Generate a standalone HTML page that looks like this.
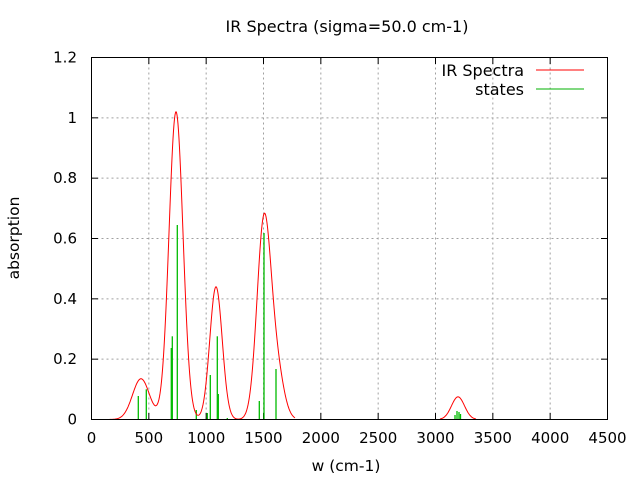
<!DOCTYPE html>
<html><head><meta charset="utf-8"><style>
html,body{margin:0;padding:0;background:#fff;}
svg{display:block;font-family:"DejaVu Sans","Liberation Sans",sans-serif;}
</style></head><body>
<svg id="s" width="640" height="480" viewBox="0 0 640 480" xmlns="http://www.w3.org/2000/svg">
<rect width="640" height="480" fill="#fff"/>
<g id="grid" stroke="#a0a0a0" stroke-dasharray="2,3" stroke-width="1"></g>
<g id="ticks" stroke="#000" stroke-width="1"></g>
<g id="labels" font-size="15" fill="#000"></g>
<text x="347" y="32" font-size="16" text-anchor="middle">IR Spectra (sigma=50.0 cm-1)</text>
<text x="346" y="471" font-size="15.5" text-anchor="middle">w (cm-1)</text>
<text transform="translate(19,238) rotate(-90)" font-size="15.5" text-anchor="middle">absorption</text>
<text x="524" y="76" font-size="16" text-anchor="end">IR Spectra</text>
<line x1="536" y1="70" x2="584" y2="70" stroke="#ff0000"/>
<text x="524" y="95" font-size="16" text-anchor="end">states</text>
<line x1="536" y1="89" x2="584" y2="89" stroke="#00b000"/>
<g id="sticks" stroke="#00bb00" stroke-width="1.3"></g>
<path id="curve" fill="none" stroke="#ff0000" stroke-width="1"/>
<rect x="91.5" y="57.5" width="516" height="362" fill="none" stroke="#000"/>
</svg>
<script>
var ns="http://www.w3.org/2000/svg";
function el(p,t,a,txt){var e=document.createElementNS(ns,t);for(var k in a)e.setAttribute(k,a[k]);if(txt!=null)e.textContent=txt;document.getElementById(p).appendChild(e);}
var X0=91.5,XS=516/4500,Y0=419.5,YS=362/1.2;
for(var i=0;i<=9;i++){var v=i*500,x=X0+v*XS;
 if(i>0&&i<9)el("grid","line",{x1:x,y1:57.5,x2:x,y2:419.5});
 el("ticks","line",{x1:x,y1:419.5,x2:x,y2:413});el("ticks","line",{x1:x,y1:57.5,x2:x,y2:64});
 el("labels","text",{x:x,y:443,"text-anchor":"middle"},String(v));}
var yl=["0","0.2","0.4","0.6","0.8","1","1.2"];
for(var i=0;i<=6;i++){var y=Y0-i*0.2*YS;
 if(i>0&&i<6)el("grid","line",{x1:91.5,y1:y,x2:607.5,y2:y});
 el("ticks","line",{x1:91.5,y1:y,x2:98,y2:y});el("ticks","line",{x1:607.5,y1:y,x2:601,y2:y});
 el("labels","text",{x:77,y:y+5,"text-anchor":"end"},yl[i]);}
var st=[[138.3,396],[146.3,389.3],[171.3,348],[172.3,336.3],[177.3,225],[196.3,410],[207.3,413],[210.3,375],[217.3,336.3],[218.3,394],[227.3,418],[259.3,401],[264,233],[276,369],[455,415],[457,411],[459,412],[460.5,414]];
st.forEach(function(s){el("sticks","line",{x1:s[0],y1:419.5,x2:s[0],y2:s[1]});});
var g=[[141,0.135,8.5],[176,1.02,7],[216,0.44,6.2],[264,0.655,7],[277,0.15,7],[458,0.075,6.5]];
function f(x){var s=0;g.forEach(function(q){s+=q[1]*Math.exp(-(x-q[0])*(x-q[0])/(2*q[2]*q[2]));});return s;}
var d="";
function seg(a,b){for(var x=a;x<=b;x+=0.5){d+=(x==a?"M":"L")+x.toFixed(1)+","+(Y0-f(x)*YS).toFixed(1);}}
seg(107,295);seg(440,476);
document.getElementById("curve").setAttribute("d",d);
</script>
</body></html>
